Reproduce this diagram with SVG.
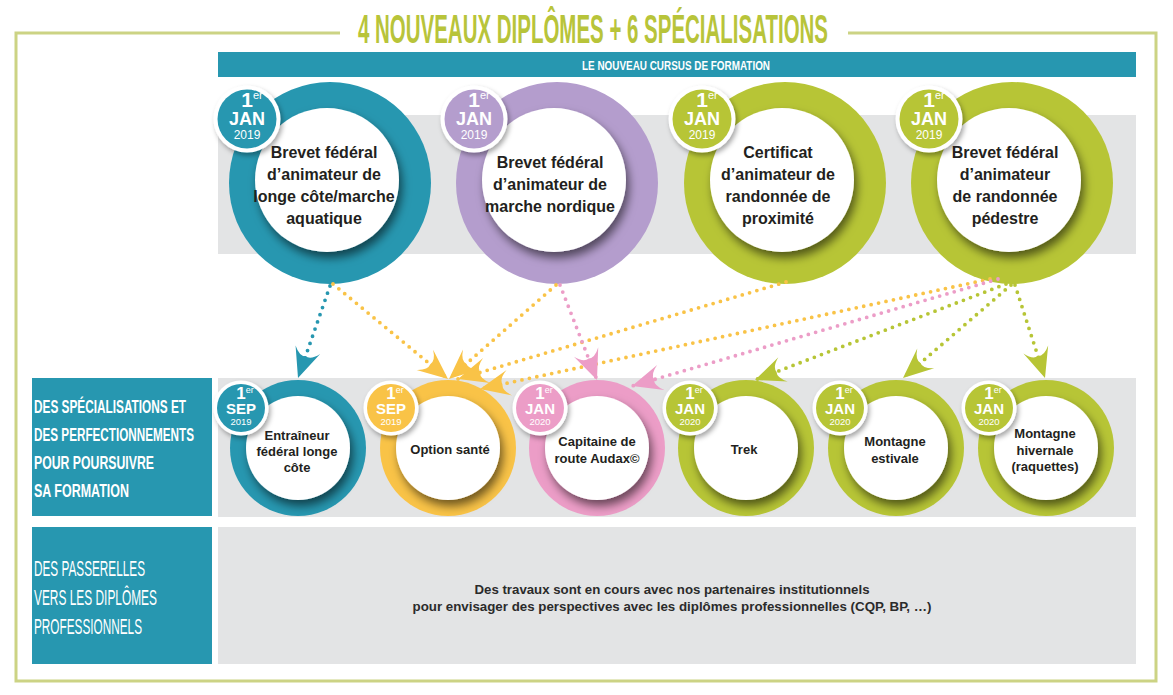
<svg xmlns="http://www.w3.org/2000/svg" width="1173" height="695" viewBox="0 0 1173 695">
<style>
  .band{fill:#e3e4e5}
  .lbl{fill:#2797b0}
  .frame{fill:none;stroke:#ccd384;stroke-width:3}
  .title{font-family:"Liberation Sans",Arial,sans-serif;font-weight:bold;font-size:40px;fill:#b8c43a}
  .cap{font-family:"Liberation Sans",Arial,sans-serif;font-weight:bold;fill:#ffffff}
  .big{font-family:"Liberation Sans",Arial,sans-serif;font-weight:bold;font-size:16px;fill:#231f20;text-anchor:middle}
  .sm{font-family:"Liberation Sans",Arial,sans-serif;font-weight:bold;font-size:13px;fill:#231f20;text-anchor:middle}
  .body{font-family:"Liberation Sans",Arial,sans-serif;font-weight:bold;font-size:13px;fill:#2b2b2b;text-anchor:middle}
  .bd{font-family:"Liberation Sans",Arial,sans-serif;fill:#ffffff;text-anchor:middle}
  .disc{fill:#ffffff;filter:url(#sh)}
  .bw{fill:#ffffff;filter:url(#sh2)}
  .dot{fill:none;stroke-width:3.8;stroke-linecap:round;stroke-dasharray:0 7.6}
  .teal{fill:#2797b0}.purple{fill:#b49dcd}.green{fill:#b7c536}.yellow{fill:#f9c347}.pink{fill:#ec9dc7}
</style>
<defs>
  <filter id="sh" x="-30%" y="-30%" width="160%" height="160%">
    <feDropShadow dx="3" dy="6" stdDeviation="5" flood-color="#000" flood-opacity="0.55"/>
  </filter>
  <filter id="sh2" x="-30%" y="-30%" width="160%" height="160%">
    <feDropShadow dx="2" dy="3" stdDeviation="2.5" flood-color="#000" flood-opacity="0.35"/>
  </filter>
  <marker id="aT" viewBox="-32 -16 34 32" markerWidth="34" markerHeight="32" refX="0" refY="0" orient="auto" markerUnits="userSpaceOnUse"><path d="M0,0 L-30,-13 Q-21,-6 -23,0 Q-21,6 -30,13 Z" fill="#2797b0"/></marker>
  <marker id="aY" viewBox="-32 -16 34 32" markerWidth="34" markerHeight="32" refX="0" refY="0" orient="auto" markerUnits="userSpaceOnUse"><path d="M0,0 L-30,-13 Q-21,-6 -23,0 Q-21,6 -30,13 Z" fill="#f9c347"/></marker>
  <marker id="aP" viewBox="-32 -16 34 32" markerWidth="34" markerHeight="32" refX="0" refY="0" orient="auto" markerUnits="userSpaceOnUse"><path d="M0,0 L-30,-13 Q-21,-6 -23,0 Q-21,6 -30,13 Z" fill="#ec9dc7"/></marker>
  <marker id="aG" viewBox="-32 -16 34 32" markerWidth="34" markerHeight="32" refX="0" refY="0" orient="auto" markerUnits="userSpaceOnUse"><path d="M0,0 L-30,-13 Q-21,-6 -23,0 Q-21,6 -30,13 Z" fill="#b7c536"/></marker>
</defs>
<rect width="1173" height="695" fill="#ffffff"/>

<!-- frame and title -->
<g id="frame">
  <path class="frame" d="M340,33 H16 V681 H1156 V33 H848"/>
  <text class="title" x="593" y="43" text-anchor="middle" textLength="470" lengthAdjust="spacingAndGlyphs">4 NOUVEAUX DIPLÔMES + 6 SPÉCIALISATIONS</text>
</g>

<g id="header">
  <rect x="218" y="52" width="918" height="25" class="lbl"/>
  <text class="cap" x="676" y="70" font-size="13" text-anchor="middle" textLength="188" lengthAdjust="spacingAndGlyphs">LE NOUVEAU CURSUS DE FORMATION</text>
</g>

<!-- bands -->
<rect class="band" x="218" y="115" width="918" height="139"/>
<rect class="band" x="218" y="378" width="918" height="139"/>
<rect class="band" x="218" y="527" width="918" height="137"/>

<g id="label-specialisations">
  <rect class="lbl" x="32" y="378" width="180" height="138"/>
  <text class="cap" font-size="18" x="34" y="413" textLength="152" lengthAdjust="spacingAndGlyphs">DES SPÉCIALISATIONS ET</text>
  <text class="cap" font-size="18" x="34" y="441" textLength="160" lengthAdjust="spacingAndGlyphs">DES PERFECTIONNEMENTS</text>
  <text class="cap" font-size="18" x="34" y="469" textLength="120" lengthAdjust="spacingAndGlyphs">POUR POURSUIVRE</text>
  <text class="cap" font-size="18" x="34" y="497" textLength="95" lengthAdjust="spacingAndGlyphs">SA FORMATION</text>
</g>

<g id="label-passerelles">
  <rect class="lbl" x="32" y="527" width="180" height="137"/>
  <text class="cap" style="font-weight:normal" font-size="22" x="34" y="576" textLength="111" lengthAdjust="spacingAndGlyphs">DES PASSERELLES</text>
  <text class="cap" style="font-weight:normal" font-size="22" x="34" y="605" textLength="123" lengthAdjust="spacingAndGlyphs">VERS LES DIPLÔMES</text>
  <text class="cap" style="font-weight:normal" font-size="22" x="34" y="634" textLength="108" lengthAdjust="spacingAndGlyphs">PROFESSIONNELS</text>
</g>

<g id="passerelles-text">
  <text class="body" x="672" y="594" textLength="395" lengthAdjust="spacingAndGlyphs">Des travaux sont en cours avec nos partenaires institutionnels</text>
  <text class="body" x="672" y="611" textLength="519" lengthAdjust="spacingAndGlyphs">pour envisager des perspectives avec les diplômes professionnelles (CQP, BP, …)</text>
</g>

<!-- top diplomas -->
<g id="dip-longe-cote">
  <circle class="teal" cx="330" cy="183" r="101"/>
  <circle class="disc" cx="327" cy="180" r="72"/>
  <text class="big"><tspan x="324" y="158">Brevet fédéral</tspan><tspan x="324" y="180">d’animateur de</tspan><tspan x="324" y="202">longe côte/marche</tspan><tspan x="324" y="224">aquatique</tspan></text>
  <circle class="bw" cx="247" cy="119" r="33.5"/>
  <circle class="teal" cx="247" cy="119" r="29.5"/>
  <text class="bd" x="252" y="107"><tspan font-size="21" font-weight="bold">1</tspan><tspan font-size="11" dy="-8">er</tspan></text>
  <text class="bd" x="247" y="125" font-size="18" font-weight="bold">JAN</text>
  <text class="bd" x="247" y="139" font-size="12">2019</text>
</g>

<g id="dip-marche-nordique">
  <circle class="purple" cx="557" cy="183" r="101"/>
  <circle class="disc" cx="554" cy="180" r="72"/>
  <text class="big"><tspan x="550" y="168">Brevet fédéral</tspan><tspan x="550" y="190">d’animateur de</tspan><tspan x="550" y="212">marche nordique</tspan></text>
  <circle class="bw" cx="474" cy="119" r="33.5"/>
  <circle class="purple" cx="474" cy="119" r="29.5"/>
  <text class="bd" x="479" y="107"><tspan font-size="21" font-weight="bold">1</tspan><tspan font-size="11" dy="-8">er</tspan></text>
  <text class="bd" x="474" y="125" font-size="18" font-weight="bold">JAN</text>
  <text class="bd" x="474" y="139" font-size="12">2019</text>
</g>

<g id="dip-rando-proximite">
  <circle class="green" cx="785" cy="183" r="101"/>
  <circle class="disc" cx="782" cy="180" r="72"/>
  <text class="big"><tspan x="778" y="158">Certificat</tspan><tspan x="778" y="180">d’animateur de</tspan><tspan x="778" y="202">randonnée de</tspan><tspan x="778" y="224">proximité</tspan></text>
  <circle class="bw" cx="702" cy="119" r="33.5"/>
  <circle class="green" cx="702" cy="119" r="29.5"/>
  <text class="bd" x="707" y="107"><tspan font-size="21" font-weight="bold">1</tspan><tspan font-size="11" dy="-8">er</tspan></text>
  <text class="bd" x="702" y="125" font-size="18" font-weight="bold">JAN</text>
  <text class="bd" x="702" y="139" font-size="12">2019</text>
</g>

<g id="dip-rando-pedestre">
  <circle class="green" cx="1012" cy="183" r="101"/>
  <circle class="disc" cx="1009" cy="180" r="72"/>
  <text class="big"><tspan x="1005" y="158">Brevet fédéral</tspan><tspan x="1005" y="180">d’animateur</tspan><tspan x="1005" y="202">de randonnée</tspan><tspan x="1005" y="224">pédestre</tspan></text>
  <circle class="bw" cx="929" cy="119" r="33.5"/>
  <circle class="green" cx="929" cy="119" r="29.5"/>
  <text class="bd" x="934" y="107"><tspan font-size="21" font-weight="bold">1</tspan><tspan font-size="11" dy="-8">er</tspan></text>
  <text class="bd" x="929" y="125" font-size="18" font-weight="bold">JAN</text>
  <text class="bd" x="929" y="139" font-size="12">2019</text>
</g>

<!-- specialisations -->
<g id="spec-entraineur">
  <circle class="teal" cx="298" cy="448" r="68"/>
  <circle class="disc" cx="298" cy="448" r="52"/>
  <text class="sm"><tspan x="297" y="440">Entraîneur</tspan><tspan x="297" y="456">fédéral longe</tspan><tspan x="297" y="472">côte</tspan></text>
  <circle class="bw" cx="241" cy="408" r="27.5"/>
  <circle class="teal" cx="241" cy="408" r="24"/>
  <text class="bd" x="245" y="399"><tspan font-size="17" font-weight="bold">1</tspan><tspan font-size="9" dy="-6">er</tspan></text>
  <text class="bd" x="241" y="414" font-size="15" font-weight="bold">SEP</text>
  <text class="bd" x="241" y="425" font-size="9.5">2019</text>
</g>

<g id="spec-sante">
  <circle class="yellow" cx="448" cy="448" r="68"/>
  <circle class="disc" cx="448" cy="448" r="52"/>
  <text class="sm" x="450" y="454">Option santé</text>
  <circle class="bw" cx="391" cy="408" r="27.5"/>
  <circle class="yellow" cx="391" cy="408" r="24"/>
  <text class="bd" x="395" y="399"><tspan font-size="17" font-weight="bold">1</tspan><tspan font-size="9" dy="-6">er</tspan></text>
  <text class="bd" x="391" y="414" font-size="15" font-weight="bold">SEP</text>
  <text class="bd" x="391" y="425" font-size="9.5">2019</text>
</g>

<g id="spec-audax">
  <circle class="pink" cx="597" cy="448" r="68"/>
  <circle class="disc" cx="597" cy="448" r="52"/>
  <text class="sm"><tspan x="597" y="446">Capitaine de</tspan><tspan x="597" y="463">route Audax©</tspan></text>
  <circle class="bw" cx="540" cy="408" r="27.5"/>
  <circle class="pink" cx="540" cy="408" r="24"/>
  <text class="bd" x="544" y="399"><tspan font-size="17" font-weight="bold">1</tspan><tspan font-size="9" dy="-6">er</tspan></text>
  <text class="bd" x="540" y="414" font-size="15" font-weight="bold">JAN</text>
  <text class="bd" x="540" y="425" font-size="9.5">2020</text>
</g>

<g id="spec-trek">
  <circle class="green" cx="746" cy="448" r="68"/>
  <circle class="disc" cx="746" cy="448" r="52"/>
  <text class="sm" x="744" y="454">Trek</text>
  <circle class="bw" cx="690" cy="408" r="27.5"/>
  <circle class="green" cx="690" cy="408" r="24"/>
  <text class="bd" x="694" y="399"><tspan font-size="17" font-weight="bold">1</tspan><tspan font-size="9" dy="-6">er</tspan></text>
  <text class="bd" x="690" y="414" font-size="15" font-weight="bold">JAN</text>
  <text class="bd" x="690" y="425" font-size="9.5">2020</text>
</g>

<g id="spec-montagne-estivale">
  <circle class="green" cx="896" cy="448" r="68"/>
  <circle class="disc" cx="896" cy="448" r="52"/>
  <text class="sm"><tspan x="895" y="446">Montagne</tspan><tspan x="895" y="463">estivale</tspan></text>
  <circle class="bw" cx="840" cy="408" r="27.5"/>
  <circle class="green" cx="840" cy="408" r="24"/>
  <text class="bd" x="844" y="399"><tspan font-size="17" font-weight="bold">1</tspan><tspan font-size="9" dy="-6">er</tspan></text>
  <text class="bd" x="840" y="414" font-size="15" font-weight="bold">JAN</text>
  <text class="bd" x="840" y="425" font-size="9.5">2020</text>
</g>

<g id="spec-montagne-hivernale">
  <circle class="green" cx="1046" cy="448" r="68"/>
  <circle class="disc" cx="1046" cy="448" r="52"/>
  <text class="sm"><tspan x="1045" y="438">Montagne</tspan><tspan x="1045" y="454.5">hivernale</tspan><tspan x="1045" y="471">(raquettes)</tspan></text>
  <circle class="bw" cx="989" cy="408" r="27.5"/>
  <circle class="green" cx="989" cy="408" r="24"/>
  <text class="bd" x="993" y="399"><tspan font-size="17" font-weight="bold">1</tspan><tspan font-size="9" dy="-6">er</tspan></text>
  <text class="bd" x="989" y="414" font-size="15" font-weight="bold">JAN</text>
  <text class="bd" x="989" y="425" font-size="9.5">2020</text>
</g>

<!-- connectors -->
<g id="connectors">
  <line class="dot" stroke="#2797b0" x1="330" y1="286" x2="298" y2="378" marker-end="url(#aT)"/>
  <line class="dot" stroke="#f9c347" x1="333" y1="284" x2="448" y2="379" marker-end="url(#aY)"/>
  <line class="dot" stroke="#f9c347" x1="556" y1="285" x2="449" y2="379" marker-end="url(#aY)"/>
  <line class="dot" stroke="#f9c347" x1="786" y1="282" x2="458" y2="379" marker-end="url(#aY)"/>
  <line class="dot" stroke="#f9c347" x1="990" y1="279" x2="480" y2="389" marker-end="url(#aY)"/>
  <line class="dot" stroke="#ec9dc7" x1="560" y1="285" x2="597" y2="380" marker-end="url(#aP)"/>
  <line class="dot" stroke="#ec9dc7" x1="998" y1="279" x2="632" y2="386" marker-end="url(#aP)"/>
  <line class="dot" stroke="#b7c536" x1="1006" y1="284" x2="755" y2="380" marker-end="url(#aG)"/>
  <line class="dot" stroke="#b7c536" x1="1011" y1="285" x2="903" y2="378" marker-end="url(#aG)"/>
  <line class="dot" stroke="#b7c536" x1="1015" y1="285" x2="1045" y2="378" marker-end="url(#aG)"/>
</g>
</svg>
